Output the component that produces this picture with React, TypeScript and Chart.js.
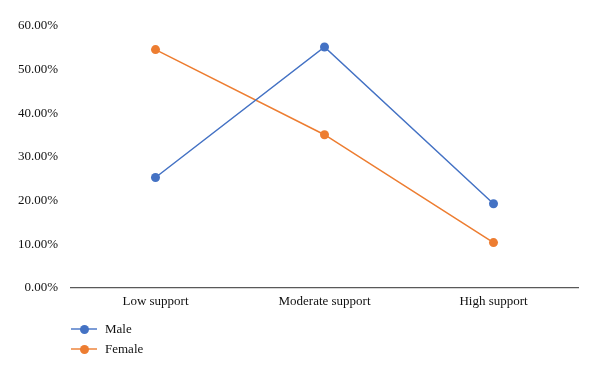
import React, { useEffect, useRef } from "react";
import { Chart, registerables } from "chart.js";

Chart.register(...registerables);

const categories = ["Low support", "Moderate support", "High support"];
const maleValues = [25.3, 55.2, 19.3];
const femaleValues = [54.6, 35.1, 10.4];
const yTicks = [0, 10, 20, 30, 40, 50, 60];
const seriesNames = ["Male", "Female"];
const colors = ["#4472C4", "#ED7D31"];

const FONT = "'Liberation Serif', 'Times New Roman', serif";

export default function App() {
  const ref = useRef<HTMLCanvasElement | null>(null);

  useEffect(() => {
    document.body.style.margin = "0";
    if (!ref.current) return;
    const chart = new Chart(ref.current, {
      type: "line",
      data: {
        labels: categories,
        datasets: [
          {
            label: seriesNames[0],
            data: maleValues,
            borderColor: colors[0],
            backgroundColor: colors[0],
            borderWidth: 1.5,
            pointRadius: 4.5,
            pointBorderWidth: 0,
            pointBackgroundColor: colors[0],
          },
          {
            label: seriesNames[1],
            data: femaleValues,
            borderColor: colors[1],
            backgroundColor: colors[1],
            borderWidth: 1.5,
            pointRadius: 4.5,
            pointBorderWidth: 0,
            pointBackgroundColor: colors[1],
          },
        ],
      },
      options: {
        animation: false,
        responsive: false,
        maintainAspectRatio: false,
        layout: { padding: { top: 26, right: 22, bottom: 47, left: 0 } },
        plugins: {
          legend: { display: false },
          tooltip: { enabled: false },
        },
        scales: {
          x: {
            offset: true,
            grid: { display: false, drawTicks: false },
            border: { display: true, color: "#595959", width: 1.2 },
            ticks: {
              color: "#111",
              font: { family: FONT, size: 13 },
              padding: 6,
            },
            afterFit: (s: any) => {
              s.height = 40;
            },
          },
          y: {
            min: 0,
            max: 60,
            grid: { display: false, drawTicks: false },
            border: { display: false },
            afterBuildTicks: (s: any) => {
              s.ticks = yTicks.map((v) => ({ value: v }));
            },
            ticks: {
              color: "#111",
              font: { family: FONT, size: 13 },
              padding: 13,
              callback: (v: any) => Number(v).toFixed(2) + "%",
            },
            afterFit: (s: any) => {
              s.width = 71;
            },
          },
        },
      },
    });
    return () => chart.destroy();
  }, []);

  const legendItem = (i: number, top: number) => (
    <div
      key={i}
      style={{
        position: "absolute",
        left: 71,
        top,
        height: 20,
        display: "flex",
        alignItems: "center",
      }}
    >
      <div style={{ position: "relative", width: 26, height: 20 }}>
        <div
          style={{
            position: "absolute",
            left: 0,
            top: 9,
            width: 26,
            height: 1.5,
            background: colors[i],
            opacity: 0.7,
          }}
        />
        <div
          style={{
            position: "absolute",
            left: 8.5,
            top: 5.5,
            width: 9,
            height: 9,
            borderRadius: 5,
            background: colors[i],
          }}
        />
      </div>
      <span
        style={{
          marginLeft: 8,
          fontFamily: FONT,
          fontSize: 13,
          color: "#111",
        }}
      >
        {seriesNames[i]}
      </span>
    </div>
  );

  return (
    <div
      style={{
        position: "relative",
        width: 600,
        height: 375,
        background: "#fff",
        overflow: "hidden",
      }}
    >
      <canvas ref={ref} width={600} height={375} style={{ display: "block" }} />
      {legendItem(0, 319)}
      {legendItem(1, 339)}
    </div>
  );
}
